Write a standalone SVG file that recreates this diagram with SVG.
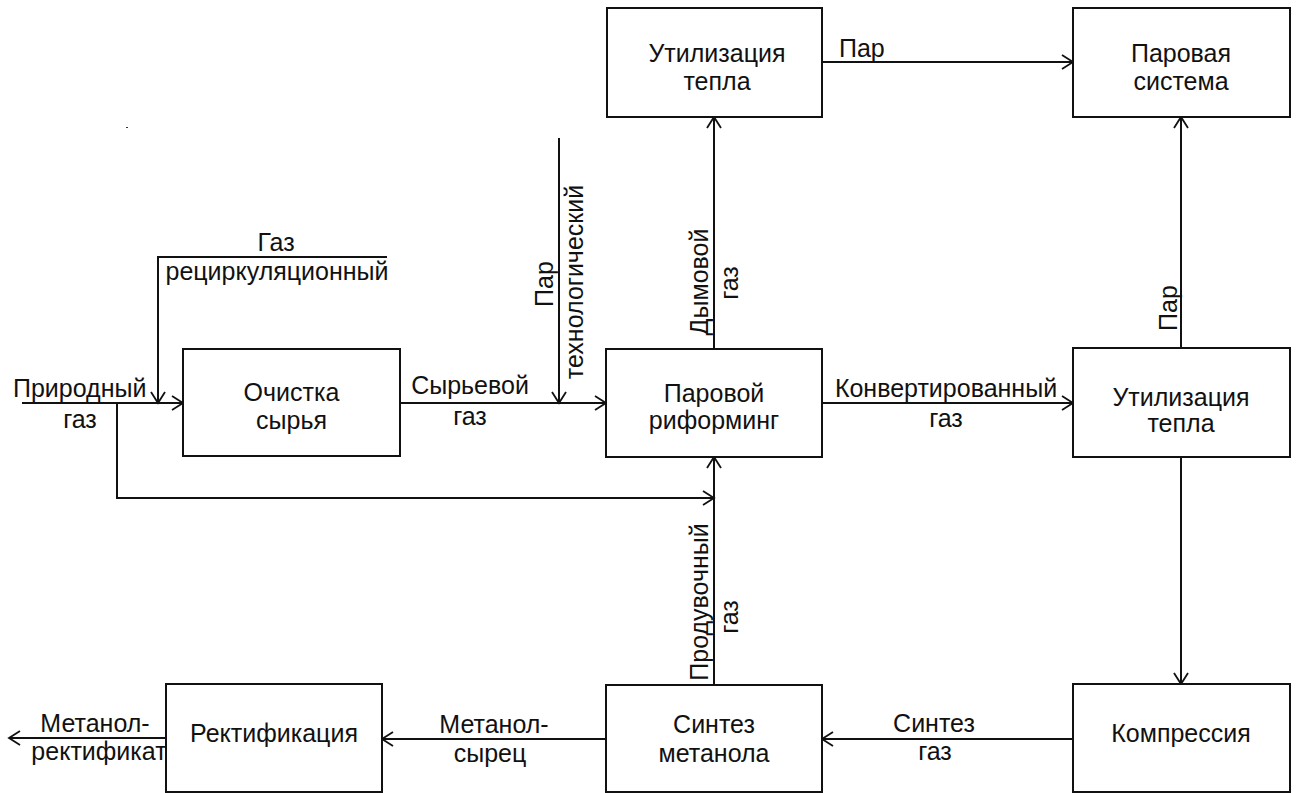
<svg xmlns="http://www.w3.org/2000/svg" width="1296" height="793" viewBox="0 0 1296 793">
<style>
.box{fill:#fff;stroke:#111;stroke-width:2}
.ln{fill:none;stroke:#111;stroke-width:2}
.arr{marker-end:url(#ah)}
text{font-family:"Liberation Sans",Arial,sans-serif;font-size:25px;fill:#111}
.c{text-anchor:middle}
</style>
<defs>
<marker id="ah" markerUnits="userSpaceOnUse" markerWidth="16" markerHeight="18" viewBox="-13 -9 15 18" refX="0" refY="0" orient="auto">
<path d="M-11,-7 L0,0 L-11,7" fill="none" stroke="#111" stroke-width="1.8"/>
</marker>
</defs>
<rect width="1296" height="793" fill="#fff"/>
<g id="connectors">
<path class="ln arr" d="M22,403 H183"/>
<path class="ln arr" d="M387,257 H158 V403"/>
<path class="ln arr" d="M117,403 V498 H714"/>
<path class="ln arr" d="M400,403 H606"/>
<path class="ln arr" d="M559,138 V403"/>
<path class="ln arr" d="M714,349 V117"/>
<path class="ln arr" d="M822,62 H1073"/>
<path class="ln arr" d="M822,403 H1073"/>
<path class="ln arr" d="M1181,348 V117"/>
<path class="ln arr" d="M1181,457 V684"/>
<path class="ln arr" d="M1073,739 H822"/>
<path class="ln arr" d="M714,685 V457"/>
<path class="ln arr" d="M606,739 H382"/>
<path class="ln arr" d="M166,738 H9"/>
</g>
<g id="labels">
<text x="13" y="397">Природный</text>
<text class="c" x="80" y="428">газ</text>
<text class="c" x="276" y="251">Газ</text>
<text class="c" x="277" y="280">рециркуляционный</text>
<text class="c" x="470" y="394">Сырьевой</text>
<text class="c" x="470" y="425">газ</text>
<text class="c" transform="translate(553,284) rotate(-90)">Пар</text>
<text class="c" transform="translate(583,282) rotate(-90)">технологический</text>
<text class="c" transform="translate(708,282) rotate(-90)">Дымовой</text>
<text class="c" transform="translate(738,283) rotate(-90)">газ</text>
<text x="839" y="57">Пар</text>
<text class="c" transform="translate(1177,308) rotate(-90)">Пар</text>
<text class="c" x="946" y="397">Конвертированный</text>
<text class="c" x="946" y="427">газ</text>
<text class="c" transform="translate(708,602) rotate(-90)">Продувочный</text>
<text class="c" transform="translate(738,617) rotate(-90)">газ</text>
<text class="c" x="934" y="732">Синтез</text>
<text class="c" x="935" y="760">газ</text>
<text class="c" x="494" y="733">Метанол-</text>
<text class="c" x="490" y="762">сырец</text>
<text class="c" x="95" y="732">Метанол-</text>
<text class="c" x="99" y="760">ректификат</text>
</g>
<g id="n1"><rect class="box" x="183" y="349" width="217" height="107"/><text class="c" x="291.5" y="401">Очистка</text><text class="c" x="291.5" y="429">сырья</text></g>
<g id="n2"><rect class="box" x="606" y="349" width="216" height="108"/><text class="c" x="714" y="402">Паровой</text><text class="c" x="714" y="429">риформинг</text></g>
<g id="n3"><rect class="box" x="607" y="8" width="215" height="109"/><text class="c" x="717" y="62">Утилизация</text><text class="c" x="717" y="90">тепла</text></g>
<g id="n4"><rect class="box" x="1073" y="8" width="217" height="109"/><text class="c" x="1181" y="62">Паровая</text><text class="c" x="1181" y="90">система</text></g>
<g id="n5"><rect class="box" x="1073" y="348" width="217" height="109"/><text class="c" x="1181" y="406">Утилизация</text><text class="c" x="1181" y="432">тепла</text></g>
<g id="n6"><rect class="box" x="1073" y="684" width="217" height="108"/><text class="c" x="1181" y="742">Компрессия</text></g>
<g id="n7"><rect class="box" x="606" y="685" width="216" height="107"/><text class="c" x="714" y="733">Синтез</text><text class="c" x="714" y="762">метанола</text></g>
<g id="n8"><rect class="box" x="166" y="684" width="216" height="108"/><text class="c" x="274" y="742">Ректификация</text></g>
<rect x="126" y="127" width="2" height="1" fill="#333"/>
</svg>
